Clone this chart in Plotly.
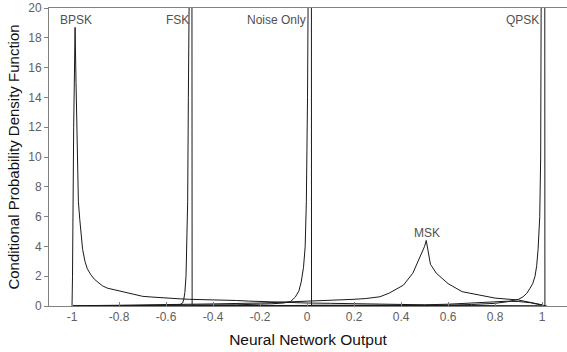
import plotly.graph_objects as go

# BPSK density
bpsk_x = [-1.0, -0.998, -0.993, -0.987, -0.983, -0.978, -0.973, -0.967, -0.96, -0.955, -0.945,
          -0.935, -0.92, -0.905, -0.89, -0.87, -0.85, -0.82, -0.79, -0.76, -0.73, -0.7, -0.66,
          -0.62, -0.58, -0.54, -0.5, -0.45, -0.4, -0.35, -0.3, -0.25, -0.2, -0.15, -0.1, -0.05,
          0.0, 0.1, 0.2, 0.3, 0.4, 0.5, 0.6, 0.7, 0.8, 0.85, 0.9, 0.95, 0.98, 1.0, 1.02]
bpsk_y = [0.0, 2.0, 12.0, 18.7, 15.0, 9.5, 7.0, 5.8, 4.6, 3.8, 3.0,
          2.5, 2.1, 1.8, 1.6, 1.35, 1.2, 1.1, 0.95, 0.85, 0.75, 0.65, 0.6,
          0.55, 0.52, 0.48, 0.45, 0.44, 0.42, 0.4, 0.37, 0.33, 0.3, 0.27, 0.25, 0.22,
          0.2, 0.18, 0.15, 0.12, 0.1, 0.08, 0.12, 0.2, 0.28, 0.32, 0.3, 0.22, 0.12, 0.06, 0.0]

# FSK density
fsk_x = [-1.0, -0.8, -0.6, -0.56, -0.54, -0.53, -0.525, -0.52, -0.515, -0.512, -0.508, -0.505,
         -0.5, -0.492, -0.4905, -0.489, -0.3, 0.0, 0.3, 0.6, 1.0]
fsk_y = [0.0, 0.02, 0.04, 0.06, 0.1, 0.2, 0.4, 0.9, 2.0, 3.5, 7.0, 14.0,
         30.0, 40.0, 40.0, 0.05, 0.04, 0.03, 0.02, 0.02, 0.0]

# Noise only density
noise_x = [-1.0, -0.6, -0.3, -0.15, -0.1, -0.07, -0.05, -0.035, -0.025, -0.015, -0.008, -0.003,
           0.002, 0.008, 0.018, 0.019, 0.1, 0.4, 0.7, 1.0]
noise_y = [0.0, 0.04, 0.08, 0.15, 0.2, 0.3, 0.6, 1.0, 1.6, 2.6, 4.0, 7.0,
           14.0, 30.0, 40.0, 0.05, 0.04, 0.03, 0.02, 0.0]

# MSK density
msk_x = [-1.0, -0.98, -0.8, -0.6, -0.4, -0.2, -0.1, 0.0, 0.1, 0.2, 0.25, 0.31, 0.35, 0.41,
         0.45, 0.47, 0.49, 0.5, 0.507, 0.515, 0.525, 0.55, 0.6, 0.66, 0.73, 0.8, 0.9, 0.95, 1.0]
msk_y = [0.0, 0.02, 0.05, 0.08, 0.14, 0.2, 0.25, 0.3, 0.36, 0.45, 0.5, 0.62, 0.87, 1.4,
         2.2, 2.9, 3.6, 4.0, 4.4, 3.6, 2.8, 2.2, 1.5, 0.96, 0.74, 0.53, 0.4, 0.25, 0.08]

# QPSK density
qpsk_x = [-1.0, 0.0, 0.4, 0.6, 0.7, 0.8, 0.85, 0.9, 0.919, 0.935, 0.949, 0.96, 0.97, 0.977,
          0.983, 0.99, 0.994, 0.997, 1.0, 1.011, 1.012]
qpsk_y = [0.0, 0.02, 0.04, 0.06, 0.1, 0.18, 0.28, 0.45, 0.62, 0.85, 1.2, 1.5, 2.0, 2.7,
          3.8, 6.0, 10.0, 20.0, 40.0, 40.0, 0.0]

series = [(bpsk_x, bpsk_y), (fsk_x, fsk_y), (noise_x, noise_y), (msk_x, msk_y), (qpsk_x, qpsk_y)]

label_text = ["BPSK", "FSK", "Noise Only", "MSK", "QPSK"]
label_x = [-0.983, -0.552, -0.128, 0.51, 0.915]
label_y = [19.2, 19.2, 19.2, 4.9, 19.2]

x_ticks = [-1, -0.8, -0.6, -0.4, -0.2, 0, 0.2, 0.4, 0.6, 0.8, 1]
x_ticktext = ["-1", "-0.8", "-0.6", "-0.4", "-0.2", "0", "0.2", "0.4", "0.6", "0.8", "1"]
y_ticks = [0, 2, 4, 6, 8, 10, 12, 14, 16, 18, 20]

fig = go.Figure()
for sx, sy in series:
    fig.add_trace(go.Scatter(x=sx, y=sy, mode="lines",
                             line=dict(color="#1a1a1a", width=1), showlegend=False,
                             hoverinfo="skip"))

for t, lx, ly in zip(label_text, label_x, label_y):
    fig.add_annotation(x=lx, y=ly, text=t, showarrow=False, xanchor="center",
                       yanchor="middle",
                       font=dict(family="Liberation Sans, Arial", size=12, color="#505050"))

fig.update_layout(
    width=567, height=352,
    margin=dict(l=49, r=0, t=8, b=46),
    paper_bgcolor="white", plot_bgcolor="white",
    font=dict(family="Liberation Sans, Arial", color="#606060"),
    xaxis=dict(range=[-1.098, 1.106], tickvals=x_ticks, ticktext=x_ticktext,
               ticks="inside", ticklen=4, tickcolor="#808080",
               showline=True, linecolor="#808080", linewidth=1, mirror=True,
               showgrid=False, zeroline=False,
               tickfont=dict(size=12, color="#606060"),
               title=dict(text="Neural Network Output", standoff=10,
                          font=dict(size=15.5, color="#111111"))),
    yaxis=dict(range=[0, 20], tickvals=y_ticks,
               ticks="outside", ticklen=4, tickcolor="#808080",
               showline=True, linecolor="#808080", linewidth=1, mirror=False,
               showgrid=False, zeroline=False,
               tickfont=dict(size=12, color="#606060"),
               title=dict(text="Conditional Probability Density Function", standoff=4,
                          font=dict(size=15, color="#111111"))),
)

fig.write_html("out.html")
